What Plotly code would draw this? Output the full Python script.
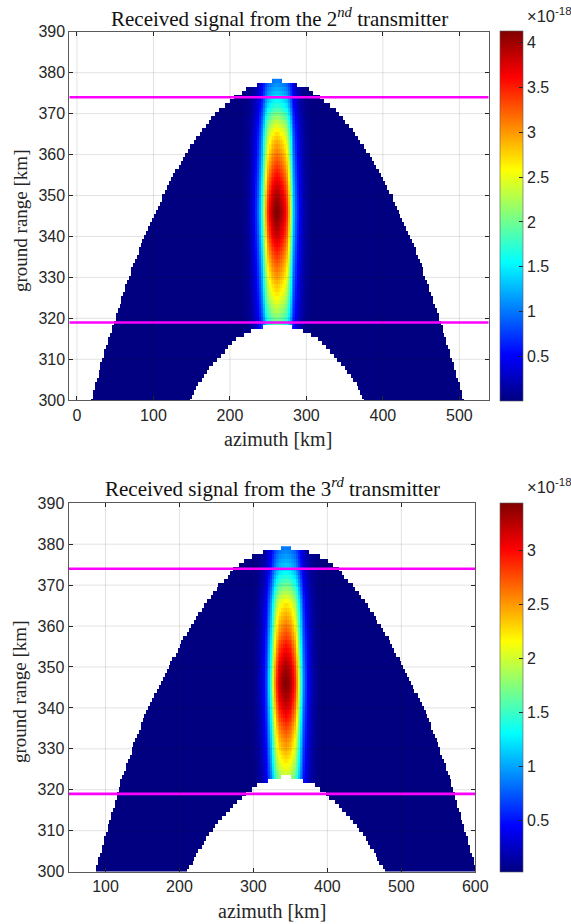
import numpy as np
import plotly.graph_objects as go

# Values -----------------------------------------------------------------------
RANGE_START_KM = 300
AZ_STEP_KM = 2.5

# Transmitter 2
T2_CENTER = 262
T2_PEAK = 4.13
T2_FLOOR = 0.01
T2_OUTER = [243, 241.7, 240.3, 239, 237.5, 236, 234.6, 233.1, 231.6, 230.1,
            228.5, 226.9, 225.3, 223.7, 222.1, 220.5, 218.8, 217.1, 215.4, 213.7,
            212, 210.3, 208.5, 206.7, 204.9, 203.1, 201.3, 199.4, 197.5, 195.7,
            194, 192, 190, 188, 186, 184, 182, 180, 178, 176,
            174, 171.7, 169.4, 167, 164.6, 162.2, 159.8, 157.4, 154.9, 152.4,
            150, 147.2, 144.4, 141.6, 138.8, 135.8, 132.8, 129.7, 126.6, 123.4,
            120, 116.5, 113, 109.3, 105.5, 101.6, 97.5, 93.2, 89, 85,
            81, 75, 69, 62, 55, 47, 40, 26, 5]
T2_INNER = [115, 112, 109, 106, 103, 99.5, 96, 92, 88, 84,
            79, 74.5, 70, 65, 59, 53, 45, 33, 19]
T2_RANGE_PROFILE = [.30, .30, .30, .30, .30, .30, .32, .32, .34, .34,
                    .36, .36, .38, .38, .40, .40, .42, .42, .44,
                    .46, .49, .52, .55, .575, .60, .625, .645, .665, .68,
                    .70, .72, .74, .76, .78, .80, .82, .84, .86, .88,
                    .90, .92, .94, .955, .97, .985, .995, 1, .995, .985,
                    .975, .96, .945, .925, .905, .885, .865, .845, .825, .805,
                    .785, .765, .745, .725, .705, .68, .655, .63, .60, .565,
                    .53, .495, .455, .415, .38, .35, .32, .295, .27, .25]
T2_AZ_PROFILE = [1, .985, .96, .93, .89, .83, .71, .55, .40, .30, .22, .16,
                 .11, .075, .05, .03, .018, .01, .005]

# Transmitter 3
T3_CENTER = 344
T3_PEAK = 3.44
T3_FLOOR = 0.02
T3_OUTER = [257, 255.6, 254.2, 252.7, 251.2, 249.7, 248.2, 246.7, 245.1, 243.6,
            242, 240.4, 238.8, 237.2, 235.6, 234, 232.4, 230.8, 229.2, 227.6,
            226, 224.3, 222.6, 220.8, 219, 217.2, 215.4, 213.6, 211.8, 209.9,
            208, 205.9, 203.8, 201.7, 199.6, 197.4, 195.2, 192.9, 190.6, 188.1,
            185.5, 182.9, 180.3, 177.6, 174.9, 172.2, 169.5, 166.8, 164, 161.2,
            158.5, 155.6, 152.7, 149.8, 146.9, 144, 141, 137.9, 134.7, 131.4,
            128, 124.6, 121.1, 117.5, 113.8, 110, 106, 102, 97.8, 93.5,
            90, 84.5, 79.5, 75, 70, 63, 55, 46, 30, 7]
T3_INNER = [133, 130.2, 127.4, 124.5, 121.5, 118.4, 115, 111.5, 108, 104,
            100, 95.5, 91, 86.5, 81.5, 76.5, 71, 65.5, 60, 53,
            46, 38, 25, 6]
T3_RANGE_PROFILE = [.30, .30, .30, .30, .30, .30, .30, .30, .32, .32,
                    .34, .34, .36, .36, .38, .40, .42, .44, .46, .48,
                    .50, .52, .54,
                    .56, .585, .61, .63, .65, .67, .69, .71, .73, .75,
                    .77, .79, .81, .83, .855, .875, .895, .915, .935, .955,
                    .97, .985, .995, 1, .995, .985, .975, .96, .945, .925,
                    .905, .885, .865, .845, .82, .80, .78, .76, .74, .72,
                    .70, .68, .655, .625, .59, .555, .52, .485, .45, .415,
                    .38, .35, .32, .30, .28, .26, .25]
T3_AZ_PROFILE = [1, .985, .965, .935, .895, .84, .73, .58, .43, .33, .245, .18,
                 .125, .085, .055, .035, .02, .012, .006]

LOWER_LINE_KM = 319
UPPER_LINE_KM = 374
GROUND_TICKS = [300, 310, 320, 330, 340, 350, 360, 370, 380, 390]
T2_AZ_TICKS = [0, 100, 200, 300, 400, 500]
T3_AZ_TICKS = [100, 200, 300, 400, 500, 600]
T2_CB_TICKS = [0.5, 1, 1.5, 2, 2.5, 3, 3.5, 4]
T3_CB_TICKS = [0.5, 1, 1.5, 2, 2.5, 3]
TITLE_2 = "Received signal from the 2<sup><i>nd</i></sup> transmitter"
TITLE_3 = "Received signal from the 3<sup><i>rd</i></sup> transmitter"

# Styling ---------------------------------------------------------------------
W, H = 571, 924
ML, MR, MT, MB = 0, 20, 14, 14
IW, IH = W - ML - MR, H - MT - MB
TICK_COLOR = "#262626"
FRAME = "#5a5a5a"
GRID = "rgba(38,38,38,0.13)"
SERIF = "Liberation Serif"
SANS = "Liberation Sans"
MATLAB_JET = [[0, "rgb(0,0,128)"], [.125, "rgb(0,0,255)"], [.375, "rgb(0,255,255)"],
              [.625, "rgb(255,255,0)"], [.875, "rgb(255,0,0)"], [1, "rgb(128,0,0)"]]


def fx(px):
    return (px - ML) / IW


def fy(py):
    return 1 - (py - MT) / IH


def field(center, peak, floor, outer, inner, range_prof, az_prof):
    rows = RANGE_START_KM + np.arange(len(outer))
    offs = AZ_STEP_KM * np.arange(-112, 113)
    az = center + offs
    prof = np.array(az_prof)
    idx = np.abs(np.arange(-112, 113))
    g = np.where(idx < len(prof), prof[np.minimum(idx, len(prof) - 1)], 0.0)
    z = floor + (peak - floor) * np.outer(np.array(range_prof), g)
    out = np.array(outer)[:, None]
    inn = np.zeros(len(outer))
    inn[:len(inner)] = inner
    inn[len(inner):] = -1
    d = np.abs(offs)[None, :]
    z[(d > out) | (d < inn[:, None])] = np.nan
    return az, rows, z


fig = go.Figure()
panels = [
    dict(ax="", x0=69.3, x1=488.7, y0=31.7, y1=400.3, xr=[-10, 538.3], xt=T2_AZ_TICKS,
         data=(T2_CENTER, T2_PEAK, T2_FLOOR, T2_OUTER, T2_INNER, T2_RANGE_PROFILE, T2_AZ_PROFILE),
         cb=T2_CB_TICKS, title=TITLE_2, tx=279, ty=17, lx=278, ly=439, gy=221, gx=20,
         cby0=30.7, cby1=400.7, cbx=500, sx=525, sy=15),
    dict(ax="2", x0=68.5, x1=475.3, y0=503.3, y1=871.6, xr=[50, 600], xt=T3_AZ_TICKS,
         data=(T3_CENTER, T3_PEAK, T3_FLOOR, T3_OUTER, T3_INNER, T3_RANGE_PROFILE, T3_AZ_PROFILE),
         cb=T3_CB_TICKS, title=TITLE_3, tx=272, ty=488, lx=272, ly=911, gy=692, gx=19,
         cby0=503, cby1=872, cbx=500, sx=525, sy=486),
]

shapes, annots = [], []
for p in panels:
    xa, ya = "x" + p["ax"], "y" + p["ax"]
    az, rows, z = field(*p["data"])
    fig.add_trace(go.Heatmap(
        x=az, y=rows, z=z, xaxis=xa, yaxis=ya, colorscale=MATLAB_JET,
        zmin=p["data"][2], zmax=p["data"][1], hoverongaps=False,
        colorbar=dict(
            x=fx(p["cbx"]), xanchor="left", xpad=0, ypad=0,
            y=fy(p["cby1"]), yanchor="bottom",
            len=p["cby1"] - p["cby0"], lenmode="pixels",
            thickness=23, thicknessmode="pixels",
            tickvals=p["cb"], ticktext=[f"{v:g}" for v in p["cb"]],
            ticks="inside", ticklen=4, tickcolor=TICK_COLOR, tickwidth=0.6,
            tickfont=dict(family=SANS, size=16, color=TICK_COLOR),
            outlinecolor=FRAME, outlinewidth=0.6, borderwidth=0),
    ))
    for yv in (UPPER_LINE_KM, LOWER_LINE_KM):
        fig.add_trace(go.Scatter(
            x=p["xr"], y=[yv, yv], xaxis=xa, yaxis=ya, mode="lines", cliponaxis=False,
            line=dict(color="#ff00ff", width=2.6), showlegend=False, hoverinfo="skip"))
    axis = dict(showgrid=False, zeroline=False, ticks="inside", ticklen=4, tickwidth=0.7,
                tickcolor=TICK_COLOR, showline=True, linecolor=FRAME, linewidth=1,
                mirror="ticks", layer="above traces",
                tickfont=dict(family=SANS, size=16, color=TICK_COLOR))
    sfx = p["ax"]
    fig.update_layout(**{
        "xaxis" + sfx: dict(axis, domain=[fx(p["x0"]), fx(p["x1"])], range=p["xr"],
                            tickvals=p["xt"], anchor=ya),
        "yaxis" + sfx: dict(axis, domain=[fy(p["y1"]), fy(p["y0"])], range=[300, 390],
                            tickvals=GROUND_TICKS, anchor=xa),
    })
    for t in p["xt"]:
        shapes.append(dict(type="line", xref=xa, yref=ya, x0=t, x1=t, y0=300, y1=390,
                           line=dict(color=GRID, width=1), layer="above"))
    for t in GROUND_TICKS[1:-1]:
        shapes.append(dict(type="line", xref=xa, yref=ya, x0=p["xr"][0], x1=p["xr"][1], y0=t, y1=t,
                           line=dict(color=GRID, width=1), layer="above"))

    def note(text, px, py, size, family, color="#111111", angle=0, xanchor="center"):
        annots.append(dict(text=text, x=fx(px), y=fy(py), xref="paper", yref="paper",
                           showarrow=False, xanchor=xanchor, yanchor="middle", textangle=angle,
                           font=dict(family=family, size=size, color=color)))

    note(p["title"], p["tx"], p["ty"], 21, SERIF)
    note("azimuth [km]", p["lx"], p["ly"], 20, SERIF, "#262626")
    note("ground range [km]", p["gx"], p["gy"], 19, SERIF, "#262626", angle=-90)
    note("×10<sup>-18</sup>", p["sx"], p["sy"], 16.5, SANS, TICK_COLOR, xanchor="left")

fig.update_layout(width=W, height=H, autosize=False, margin=dict(l=ML, r=MR, t=MT, b=MB, autoexpand=False),
                  paper_bgcolor="white", plot_bgcolor="white", showlegend=False,
                  shapes=shapes, annotations=annots)
fig.write_html("out.html", config=dict(displayModeBar=False),
               post_script="document.body.style.margin='0';document.body.style.overflow='hidden';")
